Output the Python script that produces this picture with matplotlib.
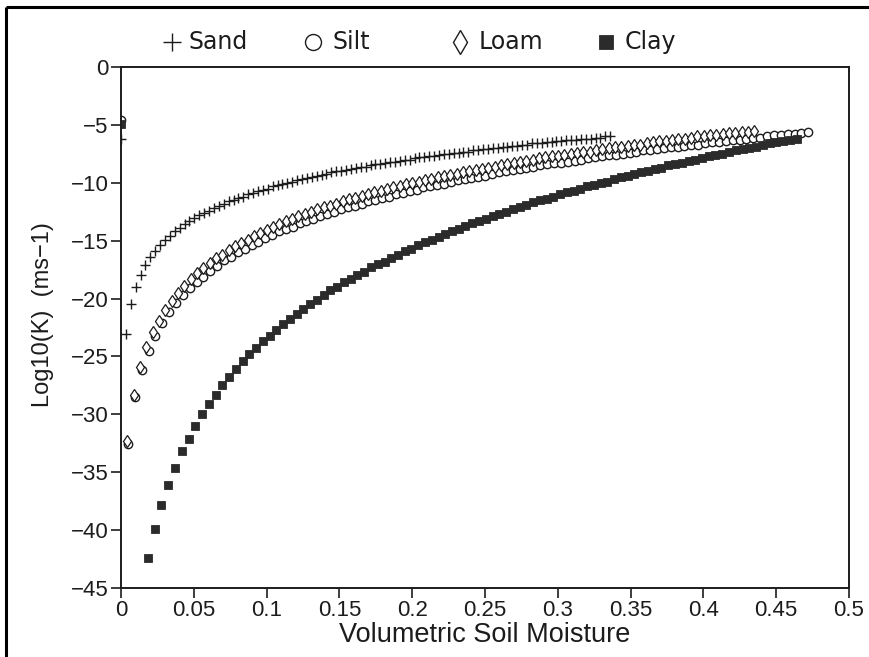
import matplotlib
matplotlib.use("Agg")
import matplotlib.pyplot as plt
from matplotlib.lines import Line2D
from matplotlib.ticker import FixedLocator, FixedFormatter

# Hydraulic conductivity log10(K) [m/s] against volumetric soil moisture
sand_x = [0.0, 0.0034, 0.0067, 0.0101, 0.0134, 0.0168, 0.0202, 0.0235, 0.0269, 0.0302, 0.0336,
          0.0370, 0.0403, 0.0437, 0.0470, 0.0504, 0.0538, 0.0571, 0.0605, 0.0638, 0.0672,
          0.0706, 0.0739, 0.0773, 0.0806, 0.0840, 0.0874, 0.0907, 0.0941, 0.0974, 0.1008,
          0.1042, 0.1075, 0.1109, 0.1142, 0.1176, 0.1210, 0.1243, 0.1277, 0.1310, 0.1344,
          0.1378, 0.1411, 0.1445, 0.1478, 0.1512, 0.1546, 0.1579, 0.1613, 0.1646, 0.1680,
          0.1714, 0.1747, 0.1781, 0.1814, 0.1848, 0.1882, 0.1915, 0.1949, 0.1982, 0.2016,
          0.2050, 0.2083, 0.2117, 0.2150, 0.2184, 0.2218, 0.2251, 0.2285, 0.2318, 0.2352,
          0.2386, 0.2419, 0.2453, 0.2486, 0.2520, 0.2554, 0.2587, 0.2621, 0.2654, 0.2688,
          0.2722, 0.2755, 0.2789, 0.2822, 0.2856, 0.2890, 0.2923, 0.2957, 0.2990, 0.3024,
          0.3058, 0.3091, 0.3125, 0.3158, 0.3192, 0.3226, 0.3259, 0.3293, 0.3326, 0.3360]
sand_k = [-6.2, -23.1, -20.5, -19.0, -18.0, -17.1, -16.4, -15.9, -15.4, -14.9, -14.6,
          -14.2, -13.9, -13.6, -13.3, -13.0, -12.8, -12.6, -12.4, -12.2, -12.0,
          -11.8, -11.6, -11.5, -11.3, -11.2, -11.0, -10.9, -10.7, -10.6, -10.5,
          -10.3, -10.2, -10.1, -10.0, -9.9, -9.8, -9.7, -9.6, -9.5, -9.4,
          -9.3, -9.2, -9.1, -9.0, -9.0, -8.9, -8.8, -8.7, -8.6, -8.6,
          -8.5, -8.4, -8.4, -8.3, -8.2, -8.2, -8.1, -8.0, -8.0, -7.9,
          -7.8, -7.8, -7.7, -7.7, -7.6, -7.5, -7.5, -7.4, -7.4, -7.3,
          -7.3, -7.2, -7.2, -7.1, -7.1, -7.0, -7.0, -6.9, -6.9, -6.8,
          -6.8, -6.7, -6.7, -6.6, -6.6, -6.6, -6.5, -6.5, -6.4, -6.4,
          -6.3, -6.3, -6.3, -6.2, -6.2, -6.2, -6.1, -6.1, -6.0, -6.0]

silt_x = [0.0, 0.0047, 0.0094, 0.0142, 0.0189, 0.0236, 0.0283, 0.0330, 0.0378, 0.0425, 0.0472,
          0.0519, 0.0566, 0.0614, 0.0661, 0.0708, 0.0755, 0.0802, 0.0850, 0.0897, 0.0944,
          0.0991, 0.1038, 0.1086, 0.1133, 0.1180, 0.1227, 0.1274, 0.1322, 0.1369, 0.1416,
          0.1463, 0.1510, 0.1558, 0.1605, 0.1652, 0.1699, 0.1746, 0.1794, 0.1841, 0.1888,
          0.1935, 0.1982, 0.2030, 0.2077, 0.2124, 0.2171, 0.2218, 0.2266, 0.2313, 0.2360,
          0.2407, 0.2454, 0.2502, 0.2549, 0.2596, 0.2643, 0.2690, 0.2738, 0.2785, 0.2832,
          0.2879, 0.2926, 0.2974, 0.3021, 0.3068, 0.3115, 0.3162, 0.3210, 0.3257, 0.3304,
          0.3351, 0.3398, 0.3446, 0.3493, 0.3540, 0.3587, 0.3634, 0.3682, 0.3729, 0.3776,
          0.3823, 0.3870, 0.3918, 0.3965, 0.4012, 0.4059, 0.4106, 0.4154, 0.4201, 0.4248,
          0.4295, 0.4342, 0.4390, 0.4437, 0.4484, 0.4531, 0.4578, 0.4626, 0.4673, 0.4720]
silt_k = [-4.6, -32.6, -28.5, -26.2, -24.5, -23.2, -22.1, -21.2, -20.4, -19.7, -19.1,
          -18.6, -18.1, -17.6, -17.2, -16.7, -16.4, -16.0, -15.7, -15.4, -15.1,
          -14.8, -14.5, -14.2, -14.0, -13.8, -13.5, -13.3, -13.1, -12.9, -12.7,
          -12.5, -12.3, -12.1, -12.0, -11.8, -11.6, -11.5, -11.3, -11.2, -11.0,
          -10.9, -10.7, -10.6, -10.4, -10.3, -10.2, -10.1, -9.9, -9.8, -9.7,
          -9.6, -9.5, -9.4, -9.2, -9.1, -9.0, -8.9, -8.8, -8.7, -8.6,
          -8.5, -8.4, -8.3, -8.3, -8.2, -8.1, -8.0, -7.9, -7.8, -7.7,
          -7.6, -7.6, -7.5, -7.4, -7.3, -7.2, -7.2, -7.1, -7.0, -6.9,
          -6.9, -6.8, -6.7, -6.7, -6.6, -6.5, -6.5, -6.4, -6.3, -6.3,
          -6.2, -6.1, -6.1, -6.0, -5.9, -5.9, -5.8, -5.8, -5.7, -5.6]

loam_x = [0.0044, 0.0087, 0.0131, 0.0174, 0.0218, 0.0261, 0.0305, 0.0348, 0.0392, 0.0435,
          0.0479, 0.0522, 0.0566, 0.0609, 0.0653, 0.0696, 0.0740, 0.0783, 0.0827, 0.0870,
          0.0914, 0.0957, 0.1001, 0.1044, 0.1088, 0.1131, 0.1175, 0.1218, 0.1262, 0.1305,
          0.1349, 0.1392, 0.1436, 0.1479, 0.1523, 0.1566, 0.1610, 0.1653, 0.1697, 0.1740,
          0.1784, 0.1827, 0.1871, 0.1914, 0.1958, 0.2001, 0.2045, 0.2088, 0.2132, 0.2175,
          0.2219, 0.2262, 0.2306, 0.2349, 0.2393, 0.2436, 0.2480, 0.2523, 0.2567, 0.2610,
          0.2654, 0.2697, 0.2741, 0.2784, 0.2828, 0.2871, 0.2915, 0.2958, 0.3002, 0.3045,
          0.3089, 0.3132, 0.3176, 0.3219, 0.3263, 0.3306, 0.3350, 0.3393, 0.3437, 0.3480,
          0.3524, 0.3567, 0.3611, 0.3654, 0.3698, 0.3741, 0.3785, 0.3828, 0.3872, 0.3915,
          0.3959, 0.4002, 0.4046, 0.4089, 0.4133, 0.4176, 0.4220, 0.4263, 0.4307, 0.4350]
loam_k = [-32.3, -28.3, -25.9, -24.2, -22.9, -21.9, -21.0, -20.2, -19.5, -18.9,
          -18.3, -17.8, -17.4, -16.9, -16.5, -16.2, -15.8, -15.5, -15.2, -14.9,
          -14.6, -14.3, -14.1, -13.8, -13.6, -13.3, -13.1, -12.9, -12.7, -12.5,
          -12.3, -12.1, -12.0, -11.8, -11.6, -11.4, -11.3, -11.1, -11.0, -10.8,
          -10.7, -10.5, -10.4, -10.3, -10.1, -10.0, -9.9, -9.8, -9.7, -9.5,
          -9.4, -9.3, -9.2, -9.1, -9.0, -8.9, -8.8, -8.7, -8.6, -8.5,
          -8.4, -8.3, -8.2, -8.1, -8.0, -7.9, -7.8, -7.7, -7.7, -7.6,
          -7.5, -7.4, -7.3, -7.3, -7.2, -7.1, -7.0, -6.9, -6.9, -6.8,
          -6.7, -6.7, -6.6, -6.5, -6.4, -6.4, -6.3, -6.2, -6.2, -6.1,
          -6.0, -6.0, -5.9, -5.9, -5.8, -5.7, -5.7, -5.6, -5.6, -5.5]

clay_x = [0.0, 0.0186, 0.0232, 0.0278, 0.0325, 0.0371, 0.0418, 0.0464,
          0.0510, 0.0557, 0.0603, 0.0650, 0.0696, 0.0742, 0.0789, 0.0835, 0.0882, 0.0928,
          0.0974, 0.1021, 0.1067, 0.1114, 0.1160, 0.1206, 0.1253, 0.1299, 0.1346, 0.1392,
          0.1438, 0.1485, 0.1531, 0.1578, 0.1624, 0.1670, 0.1717, 0.1763, 0.1810, 0.1856,
          0.1902, 0.1949, 0.1995, 0.2042, 0.2088, 0.2134, 0.2181, 0.2227, 0.2274, 0.2320,
          0.2366, 0.2413, 0.2459, 0.2506, 0.2552, 0.2598, 0.2645, 0.2691, 0.2738, 0.2784,
          0.2830, 0.2877, 0.2923, 0.2970, 0.3016, 0.3062, 0.3109, 0.3155, 0.3202, 0.3248,
          0.3294, 0.3341, 0.3387, 0.3434, 0.3480, 0.3526, 0.3573, 0.3619, 0.3666, 0.3712,
          0.3758, 0.3805, 0.3851, 0.3898, 0.3944, 0.3990, 0.4037, 0.4083, 0.4130, 0.4176,
          0.4222, 0.4269, 0.4315, 0.4362, 0.4408, 0.4454, 0.4501, 0.4547, 0.4594, 0.4640]
clay_k = [-4.9, -42.4, -39.9, -37.8, -36.1, -34.6, -33.2, -32.1,
          -31.0, -30.0, -29.1, -28.3, -27.5, -26.8, -26.1, -25.4, -24.8, -24.3,
          -23.7, -23.2, -22.7, -22.2, -21.8, -21.3, -20.9, -20.5, -20.1, -19.7,
          -19.3, -19.0, -18.6, -18.3, -18.0, -17.7, -17.3, -17.0, -16.8, -16.5,
          -16.2, -15.9, -15.7, -15.4, -15.1, -14.9, -14.7, -14.4, -14.2, -14.0,
          -13.7, -13.5, -13.3, -13.1, -12.9, -12.7, -12.5, -12.3, -12.1, -11.9,
          -11.7, -11.5, -11.4, -11.2, -11.0, -10.8, -10.7, -10.5, -10.3, -10.2,
          -10.0, -9.9, -9.7, -9.5, -9.4, -9.2, -9.1, -9.0, -8.8, -8.7,
          -8.5, -8.4, -8.3, -8.1, -8.0, -7.9, -7.7, -7.6, -7.5, -7.3,
          -7.2, -7.1, -7.0, -6.9, -6.7, -6.6, -6.5, -6.4, -6.3, -6.2]

x_ticks = [0, 0.05, 0.1, 0.15, 0.2, 0.25, 0.3, 0.35, 0.4, 0.45, 0.5]
x_tick_labels = ["0", "0.05", "0.1", "0.15", "0.2", "0.25", "0.3", "0.35", "0.4", "0.45", "0.5"]
y_ticks = [0, -5, -10, -15, -20, -25, -30, -35, -40, -45]
legend_names = ["Sand", "Silt", "Loam", "Clay"]

INK = "#1c1c1c"
SANS = ["Liberation Sans", "DejaVu Sans"]
W, H = 870, 657
fig = plt.figure(figsize=(W / 100, H / 100), dpi=100)
fig.patch.set_facecolor("white")


def fx(px):
    return px / W


def fy(py):
    return 1 - py / H


ax = fig.add_axes([fx(121), fy(588), (849 - 121) / W, (588 - 67) / H])

ax.plot(sand_x, sand_k, linestyle="none", marker="+", ms=7.5, mew=1.0, color=INK)
ax.plot(silt_x, silt_k, linestyle="none", marker="o", ms=6.0, mew=1.0,
        mfc="white", mec=INK)
ax.plot(loam_x, loam_k, linestyle="none", marker="d", ms=6.6, mew=0.9,
        mfc="white", mec=INK)
ax.plot(clay_x, clay_k, linestyle="none", marker="s", ms=5.6, mew=0.6,
        mfc="#2b2b2b", mec="#2b2b2b")

ax.set_xlim(0, 0.5)
ax.set_ylim(-45, 0)
ax.xaxis.set_major_locator(FixedLocator(x_ticks))
ax.xaxis.set_major_formatter(FixedFormatter(x_tick_labels))
ax.yaxis.set_major_locator(FixedLocator(y_ticks))

ax.tick_params(axis="both", direction="out", length=7, width=1.2, color=INK,
               labelcolor=INK, labelsize=16, pad=2)
for lab in ax.get_xticklabels() + ax.get_yticklabels():
    lab.set_family(SANS)
ax.tick_params(top=False, right=False)
for sp in ax.spines.values():
    sp.set_linewidth(1.4)
    sp.set_color(INK)

ax.set_xlabel("Volumetric Soil Moisture", fontsize=19.5, color=INK,
              family=SANS, labelpad=0)
ax.set_ylabel("Log10(K)  (ms\u22121)", fontsize=17, color=INK, family=SANS)
ax.yaxis.set_label_coords(-0.092, 0.524)

# Key row above the plotting area
key_y = fy(42)
key_marks = [
    dict(x=172, marker="+", ms=13, mew=1.0, mfc=INK, mec=INK),
    dict(x=313, marker="o", ms=11.5, mew=1.0, mfc="white", mec=INK),
    dict(x=460, marker="d", ms=12, mew=1.0, mfc="white", mec=INK),
    dict(x=606, marker="s", ms=10.5, mew=0.6, mfc="#2b2b2b", mec="#2b2b2b"),
]
text_left = [189, 333, 479, 625]
for spec, name, tx in zip(key_marks, legend_names, text_left):
    px = spec.pop("x")
    fig.add_artist(Line2D([fx(px)], [key_y], transform=fig.transFigure,
                          linestyle="none", **spec))
    fig.text(fx(tx), key_y, name, ha="left", va="center", fontsize=17,
             color=INK, family=["DejaVu Sans"])

# Page frame along the top and left edges
fig.add_artist(Line2D([fx(6), 1.0], [fy(7), fy(7)], transform=fig.transFigure,
                      color="black", lw=2.2, solid_capstyle="butt"))
fig.add_artist(Line2D([fx(6), fx(6)], [fy(7), 0.0], transform=fig.transFigure,
                      color="black", lw=2.2, solid_capstyle="butt"))

fig.savefig("out.png", dpi=100, facecolor="white")
